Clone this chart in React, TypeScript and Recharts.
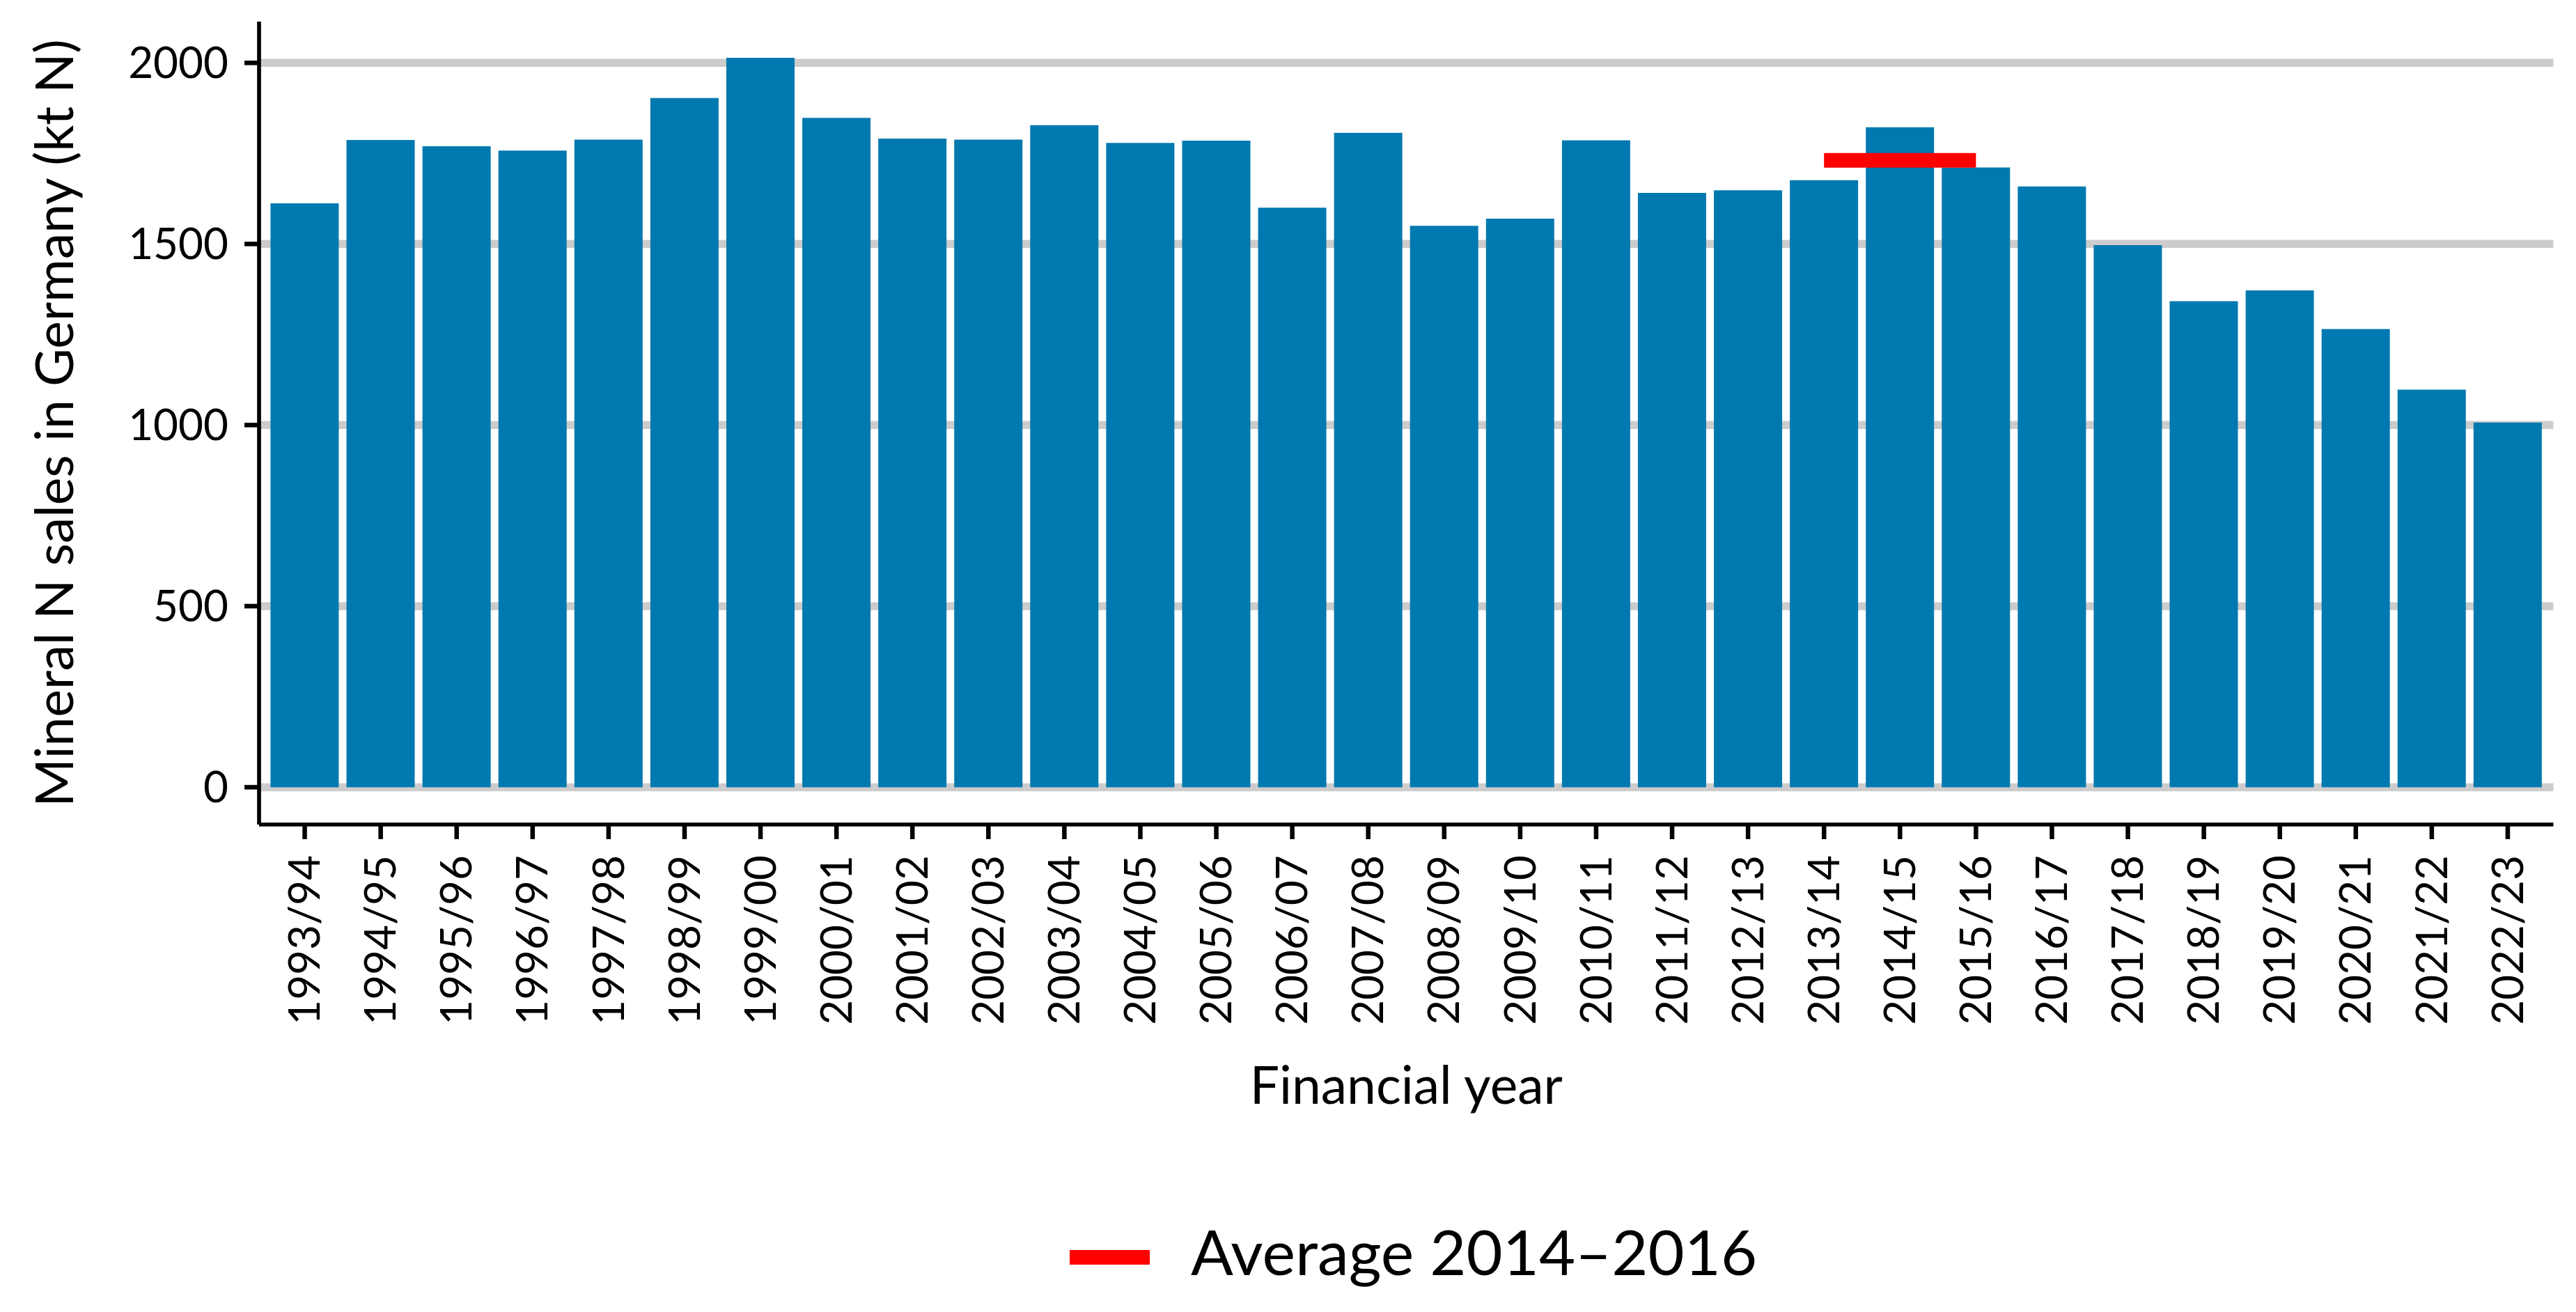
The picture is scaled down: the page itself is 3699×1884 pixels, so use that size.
import React from 'react';
import { BarChart, Bar, XAxis, YAxis, CartesianGrid, ReferenceLine, Legend } from 'recharts';

// financial years (categories)
const years = [
  '1993/94', '1994/95', '1995/96', '1996/97', '1997/98', '1998/99', '1999/00', '2000/01',
  '2001/02', '2002/03', '2003/04', '2004/05', '2005/06', '2006/07', '2007/08', '2008/09',
  '2009/10', '2010/11', '2011/12', '2012/13', '2013/14', '2014/15', '2015/16', '2016/17',
  '2017/18', '2018/19', '2019/20', '2020/21', '2021/22', '2022/23',
];

// mineral N sales (kt N)
const sales = [
  1612, 1787, 1770, 1758, 1788, 1903, 2014, 1848,
  1791, 1788, 1828, 1779, 1785, 1600, 1807, 1550,
  1570, 1786, 1641, 1648, 1676, 1822, 1711, 1659,
  1497, 1342, 1372, 1265, 1098, 1007,
];

const yTicks = [0, 500, 1000, 1500, 2000];
const yDomain = [-103, 2114];

// average line, drawn from the first to the last year of the span
const averageValue = 1731;
const averageSpan = ['2013/14', '2015/16'];
const averageLabel = 'Average 2014–2016';

const data = years.map((year, i) => ({ year, sales: sales[i] }));

const FONT = 'Lato, "Noto Sans", sans-serif';

function YearTick(props: any) {
  const { x, y, payload } = props;
  return (
    <text
      x={x}
      y={y}
      transform={`rotate(-90, ${x}, ${y})`}
      textAnchor="end"
      dy="0.35em"
      fontSize={62}
      fontFamily={FONT}
      fill="#000"
    >
      {payload.value}
    </text>
  );
}

function AverageLegend() {
  return (
    <div
      style={{
        display: 'flex',
        justifyContent: 'center',
        alignItems: 'center',
        height: '100%',
        fontFamily: FONT,
      }}
    >
      <svg width={115} height={21}>
        <line x1={0} y1={10.5} x2={115} y2={10.5} stroke="#FF0000" strokeWidth={21} />
      </svg>
      <span style={{ marginLeft: 59, fontSize: 90, lineHeight: 1, position: 'relative', top: -9, color: '#000' }}>
        {averageLabel}
      </span>
    </div>
  );
}

export default function App() {
  return (
    <div style={{ width: 3699, height: 1884, background: '#fff' }}>
      <style>{'body{margin:0}'}</style>
      <BarChart
        width={3699}
        height={1884}
        data={data}
        margin={{ top: 31, right: 32.5, left: 0, bottom: 19 }}
        barCategoryGap="5%"
        style={{ fontFamily: FONT }}
      >
        {/* grid only at the y ticks, not at the panel edges */}
        <CartesianGrid vertical={false} stroke="#cccccc" strokeWidth={11.5} syncWithTicks />
        <XAxis
          dataKey="year"
          interval={0}
          height={561}
          padding={{ left: 11, right: 11 }}
          tickSize={21}
          tickMargin={23}
          tick={YearTick}
          axisLine={{ stroke: '#000', strokeWidth: 5.7 }}
          tickLine={{ stroke: '#000', strokeWidth: 6.5 }}
          label={{
            value: 'Financial year',
            position: 'insideBottom',
            offset: 160,
            fontSize: 75,
            fill: '#000',
            fontFamily: FONT,
          }}
        />
        <YAxis
          width={372}
          type="number"
          domain={yDomain}
          ticks={yTicks}
          tickSize={21}
          tickMargin={23}
          tick={{ fontSize: 62, fill: '#000', fontFamily: FONT }}
          axisLine={{ stroke: '#000', strokeWidth: 5.7 }}
          tickLine={{ stroke: '#000', strokeWidth: 6.5 }}
          label={{
            value: 'Mineral N sales in Germany (kt N)',
            angle: -90,
            position: 'insideLeft',
            offset: 78,
            fontSize: 75,
            fill: '#000',
            fontFamily: FONT,
            style: { textAnchor: 'middle' },
          }}
        />
        <Bar dataKey="sales" fill="#0079B0" isAnimationActive={false} />
        <ReferenceLine
          segment={[
            { x: averageSpan[0], y: averageValue },
            { x: averageSpan[1], y: averageValue },
          ]}
          stroke="#FF0000"
          strokeWidth={21}
        />
        <Legend
          verticalAlign="bottom"
          align="center"
          content={AverageLegend}
          wrapperStyle={{ left: 382, width: 3295, height: 120 }}
        />
      </BarChart>
    </div>
  );
}
